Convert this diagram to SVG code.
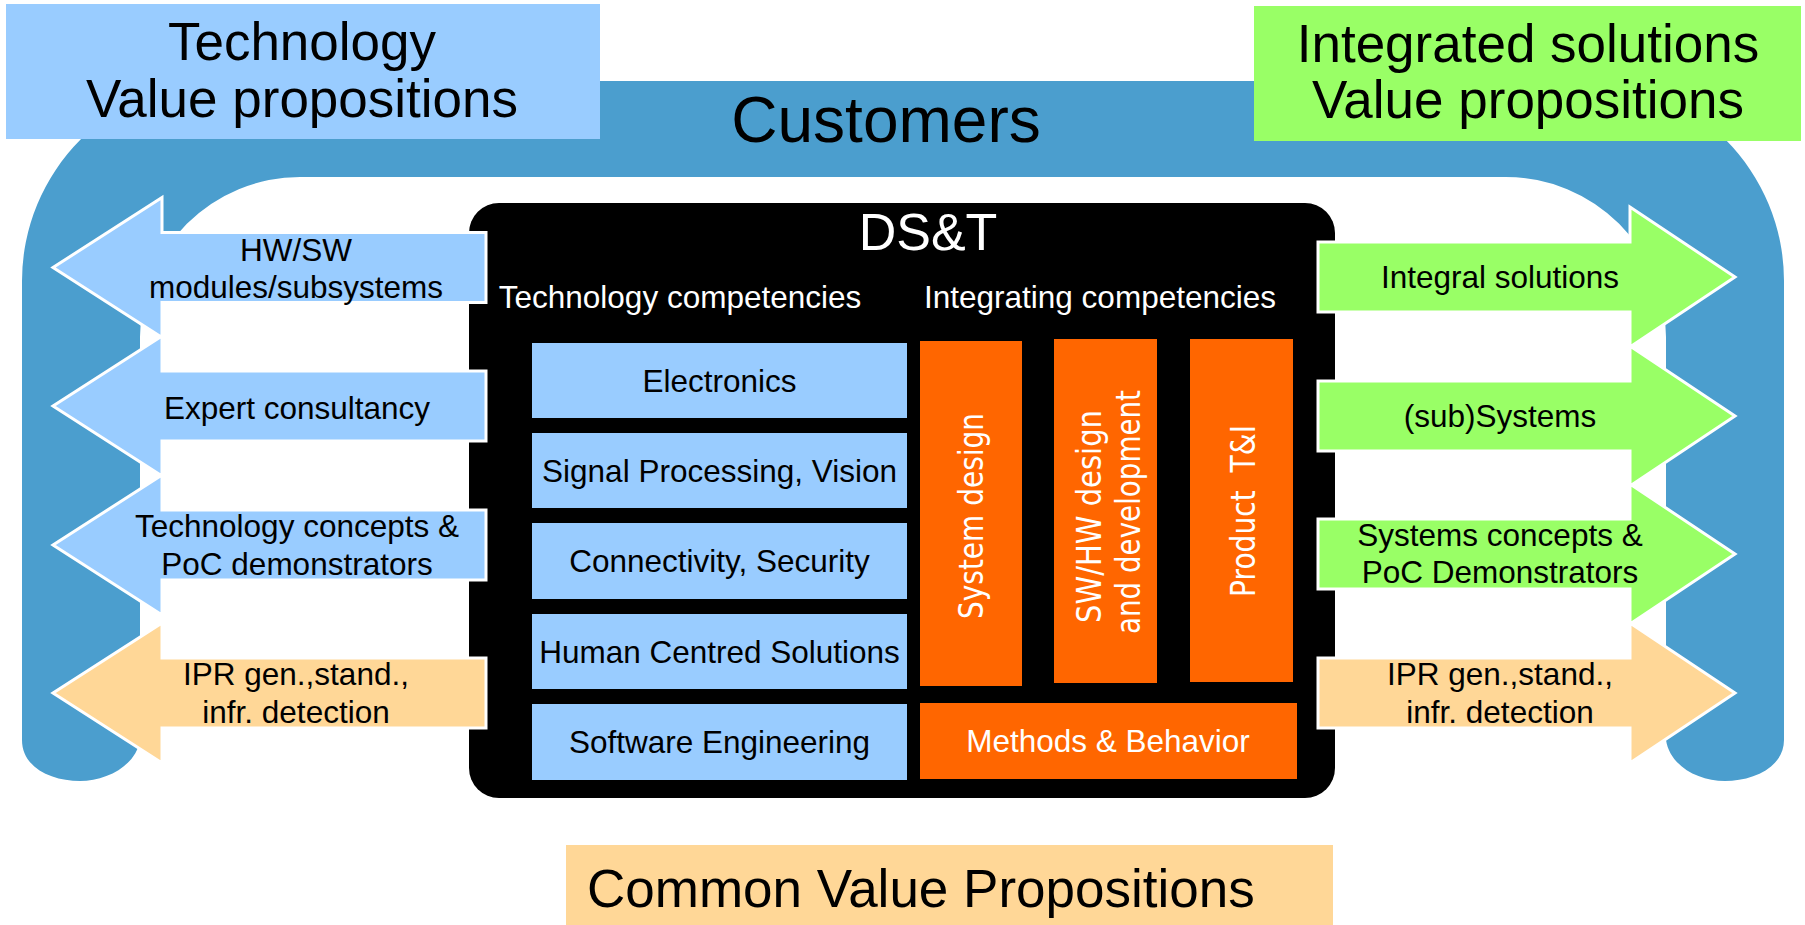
<svg xmlns="http://www.w3.org/2000/svg" xmlns:xlink="http://www.w3.org/1999/xlink" width="1805" height="925" viewBox="0 0 1805 925">
<style>
.t{font-family:"Liberation Sans",Arial,sans-serif;fill:#000}
.big{font-size:53px}
.lbl{font-size:31.5px;text-anchor:middle}
.wht{fill:#fff}
.rot{font-family:"DejaVu Sans",Verdana,sans-serif;font-size:34px;fill:#fff;text-anchor:middle;white-space:pre}
.blue{fill:#99CCFF}
.green{fill:#99FF66}
.peach{fill:#FFD797}
.orange{fill:#FF6600}
.arr{stroke:#fff;stroke-width:3;stroke-linejoin:miter}
</style>
<defs>
<path id="larrow" d="M486,-35 H162 V-70 L53,0 L162,70 V35 H486 Z"/>
<path id="rarrow" d="M1318,-35 H1630 V-70 L1735,0 L1630,70 V35 H1318 Z"/>
</defs>

<g id="customers">
<path d="M22,740 L22,281 A200,200 0 0 1 222,81 L1584,81 A200,200 0 0 1 1784,281 L1784,740 C1784,768 1752,781 1725,781 C1698,781 1670,766 1666,740 L1666,337 A160,160 0 0 0 1506,177 L300,177 A160,160 0 0 0 140,337 L140,740 C136,766 106,781 80,781 C52,781 22,768 22,740 Z" fill="#4B9ECE"/>
<text class="t" x="886" y="142" font-size="64" text-anchor="middle">Customers</text>
</g>

<g id="tech-vp">
<rect x="6" y="4" width="594" height="135" class="blue"/>
<text class="t big" x="302" y="60" text-anchor="middle">Technology</text>
<text class="t big" x="302" y="117" text-anchor="middle">Value propositions</text>
</g>

<g id="integrated-vp">
<rect x="1254" y="6" width="547" height="135" class="green"/>
<text class="t big" x="1528" y="62" text-anchor="middle">Integrated solutions</text>
<text class="t big" x="1528" y="118" text-anchor="middle">Value propositions</text>
</g>

<g id="dst">
<rect x="469" y="203" width="866" height="595" rx="30" ry="30" fill="#000"/>
<text class="t wht" x="928" y="250" font-size="52" text-anchor="middle">DS&amp;T</text>
<text class="t wht" x="680" y="308" font-size="31.5" text-anchor="middle">Technology competencies</text>
<text class="t wht" x="1100" y="308" font-size="31.5" text-anchor="middle">Integrating competencies</text>
</g>

<g id="electronics">
<rect x="532" y="343" width="375" height="75" class="blue"/>
<text class="t lbl" x="719.5" y="392">Electronics</text>
</g>
<g id="signal">
<rect x="532" y="433" width="375" height="75" class="blue"/>
<text class="t lbl" x="719.5" y="482">Signal Processing, Vision</text>
</g>
<g id="connectivity">
<rect x="532" y="523" width="375" height="76" class="blue"/>
<text class="t lbl" x="719.5" y="572">Connectivity, Security</text>
</g>
<g id="human">
<rect x="532" y="614" width="375" height="75" class="blue"/>
<text class="t lbl" x="719.5" y="663">Human Centred Solutions</text>
</g>
<g id="software">
<rect x="532" y="704" width="375" height="76" class="blue"/>
<text class="t lbl" x="719.5" y="753">Software Engineering</text>
</g>

<g id="system-design">
<rect x="920" y="341" width="102" height="345" class="orange"/>
<text class="rot" transform="translate(983,516) rotate(-90)" textLength="206" lengthAdjust="spacingAndGlyphs">System design</text>
</g>
<g id="swhw">
<rect x="1054" y="339" width="103" height="344" class="orange"/>
<text class="rot" transform="translate(1101,516.5) rotate(-90)" textLength="213" lengthAdjust="spacingAndGlyphs">SW/HW design</text>
<text class="rot" transform="translate(1140,512) rotate(-90)" textLength="244" lengthAdjust="spacingAndGlyphs">and development</text>
</g>
<g id="product-ti">
<rect x="1190" y="339" width="103" height="343" class="orange"/>
<text class="rot" transform="translate(1255,511) rotate(-90)" textLength="172" lengthAdjust="spacingAndGlyphs">Product  T&amp;I</text>
</g>
<g id="methods">
<rect x="920" y="703" width="377" height="76" class="orange"/>
<text class="t lbl wht" x="1108" y="752">Methods &amp; Behavior</text>
</g>

<g id="connectors">
<g id="l-hwsw" transform="translate(0,267.5)">
<use xlink:href="#larrow" href="#larrow" class="blue arr"/>
<text class="t lbl" x="296" y="-6.5">HW/SW</text>
<text class="t lbl" x="296" y="30.5">modules/subsystems</text>
</g>
<g id="l-expert" transform="translate(0,406)">
<use xlink:href="#larrow" href="#larrow" class="blue arr"/>
<text class="t lbl" x="297" y="13">Expert consultancy</text>
</g>
<g id="l-techconcepts" transform="translate(0,545)">
<use xlink:href="#larrow" href="#larrow" class="blue arr"/>
<text class="t lbl" x="297" y="-8">Technology concepts &amp;</text>
<text class="t lbl" x="297" y="30">PoC demonstrators</text>
</g>
<g id="l-ipr" transform="translate(0,693)">
<use xlink:href="#larrow" href="#larrow" class="peach arr"/>
<text class="t lbl" x="296" y="-8">IPR gen.,stand.,</text>
<text class="t lbl" x="296" y="30">infr. detection</text>
</g>
<g id="r-integral" transform="translate(0,277)">
<use xlink:href="#rarrow" href="#rarrow" class="green arr"/>
<text class="t lbl" x="1500" y="11">Integral solutions</text>
</g>
<g id="r-subsystems" transform="translate(0,416)">
<use xlink:href="#rarrow" href="#rarrow" class="green arr"/>
<text class="t lbl" x="1500" y="11">(sub)Systems</text>
</g>
<g id="r-sysconcepts" transform="translate(0,554)">
<use xlink:href="#rarrow" href="#rarrow" class="green arr"/>
<text class="t lbl" x="1500" y="-8">Systems concepts &amp;</text>
<text class="t lbl" x="1500" y="29">PoC Demonstrators</text>
</g>
<g id="r-ipr" transform="translate(0,693)">
<use xlink:href="#rarrow" href="#rarrow" class="peach arr"/>
<text class="t lbl" x="1500" y="-8">IPR gen.,stand.,</text>
<text class="t lbl" x="1500" y="30">infr. detection</text>
</g>
</g>

<g id="common-vp">
<rect x="566" y="845" width="767" height="80" class="peach"/>
<text class="t big" x="587" y="907">Common Value Propositions</text>
</g>
</svg>
